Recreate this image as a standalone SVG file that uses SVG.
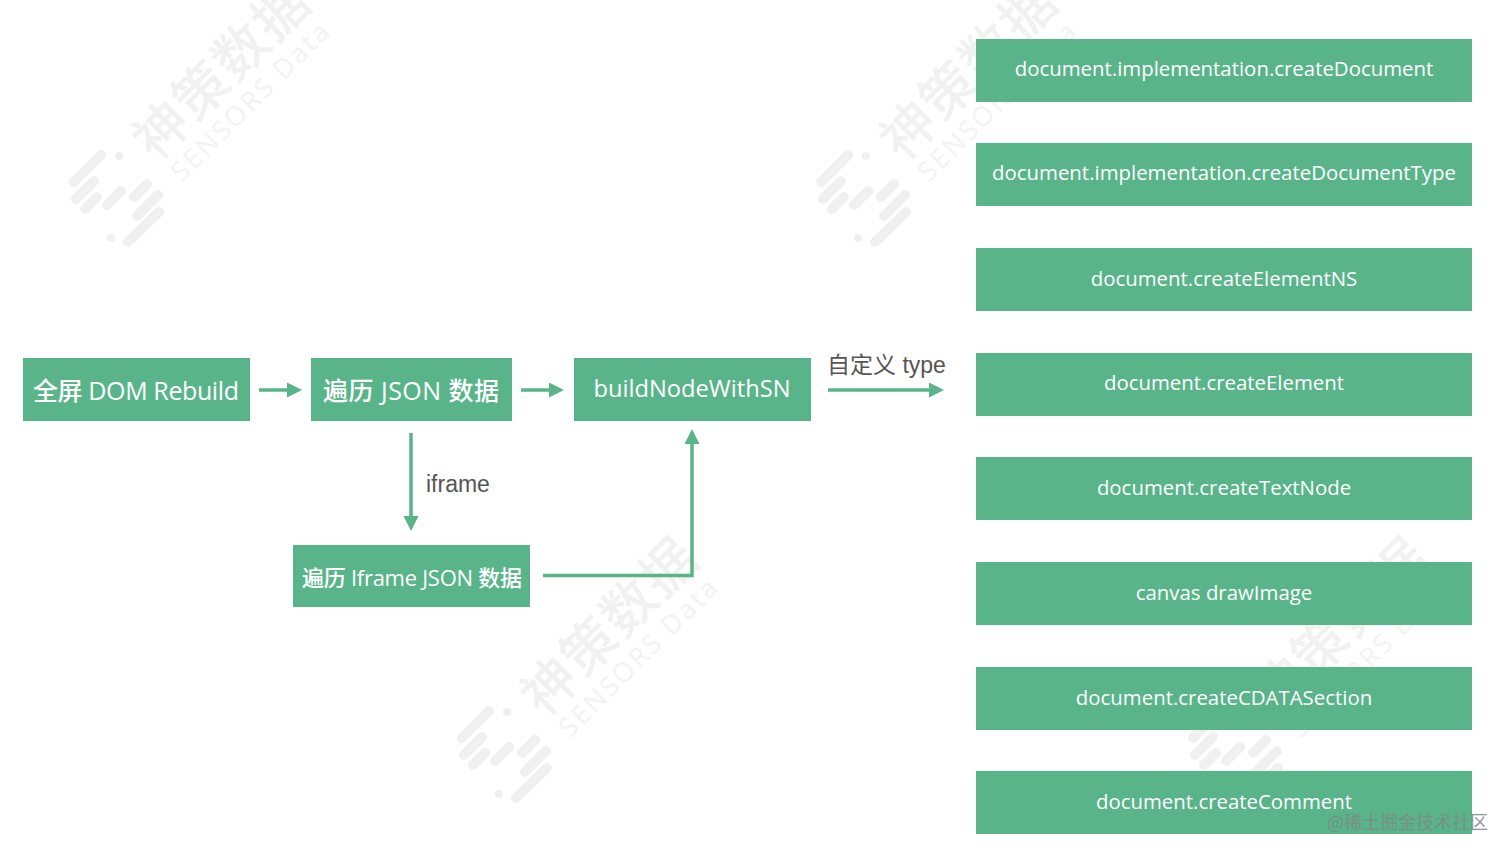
<svg xmlns="http://www.w3.org/2000/svg" width="1512" height="857" viewBox="0 0 1512 857">
<style>
.box{fill:#59b48a}
.t{font-family:"Open Sans","Noto Sans CJK SC",sans-serif;fill:#fff;text-anchor:middle;font-weight:500}
.s{font-size:20.400px}
.m{font-size:25px}
.lab{font-family:"Liberation Sans","Noto Sans CJK SC",sans-serif;font-size:23px;fill:#555}
.c{fill:none;stroke:#59b48a;stroke-width:3.500}
.wm1{font-family:"Noto Sans CJK SC",sans-serif;font-size:54px;font-weight:500;fill:#f1f1f1}
.wm2{font-family:"Noto Sans",sans-serif;font-size:27px;fill:#f3f3f3;letter-spacing:1px}
.bar{stroke:#f0f0f0;stroke-width:10;stroke-linecap:round;fill:none}
.dot{fill:#f0f0f0}
</style>
<defs>
<marker id="ah" markerUnits="userSpaceOnUse" markerWidth="16" markerHeight="16" refX="2" refY="7.500" orient="auto"><path d="M0 0L15 7.500L0 15Z" fill="#59b48a"/></marker>
<g id="wm">
<text class="wm1" transform="translate(156 163) rotate(-45)" textLength="222">神策数据</text>
<text class="wm2" transform="translate(182 183) rotate(-45)" textLength="212">SENSORS Data</text>
<path class="bar" d="M74 182L101 155M76 199L94 181M85 209L97 197M107 205L121 191M134 197L147 184M137 216L158 195M128 242L159 212"/>
<circle class="dot" cx="119" cy="156" r="4"/><circle class="dot" cx="111" cy="238" r="4"/>
</g>
</defs>
<g id="watermarks">
<use href="#wm"/><use href="#wm" x="747"/><use href="#wm" x="388" y="556"/><use href="#wm" x="1119" y="556"/>
</g>
<g id="connectors">
<path class="c" d="M259 390H289" marker-end="url(#ah)"/>
<path class="c" d="M521 390H551" marker-end="url(#ah)"/>
<path class="c" d="M828 390H931" marker-end="url(#ah)"/>
<path class="c" d="M411 433V518" marker-end="url(#ah)"/>
<path class="c" d="M543 575.500H692V442" marker-end="url(#ah)"/>
</g>
<g id="label-iframe"><text class="lab" x="426" y="492">iframe</text></g>
<g id="label-type"><text class="lab" x="827" y="373">自定义 type</text></g>
<g id="n1"><rect class="box" x="23" y="358" width="227" height="63"/><text class="t m" x="136" y="400" textLength="206">全屏 DOM Rebuild</text></g>
<g id="n2"><rect class="box" x="311" y="358" width="201" height="63"/><text class="t m" x="411" y="400" textLength="176">遍历 JSON 数据</text></g>
<g id="n3"><rect class="box" x="574" y="358" width="237" height="63"/><text class="t" font-size="23.700" x="692" y="397">buildNodeWithSN</text></g>
<g id="n4"><rect class="box" x="293" y="545" width="237" height="62"/><text class="t" font-size="22" x="412" y="586" textLength="220">遍历 Iframe JSON 数据</text></g>
<g id="r1"><rect class="box" x="976" y="39" width="496" height="63"/><text class="t s" x="1224" y="76">document.implementation.createDocument</text></g>
<g id="r2"><rect class="box" x="976" y="143" width="496" height="63"/><text class="t s" x="1224" y="180">document.implementation.createDocumentType</text></g>
<g id="r3"><rect class="box" x="976" y="248" width="496" height="63"/><text class="t s" x="1224" y="286">document.createElementNS</text></g>
<g id="r4"><rect class="box" x="976" y="353" width="496" height="63"/><text class="t s" x="1224" y="390">document.createElement</text></g>
<g id="r5"><rect class="box" x="976" y="457" width="496" height="63"/><text class="t s" x="1224" y="495">document.createTextNode</text></g>
<g id="r6"><rect class="box" x="976" y="562" width="496" height="63"/><text class="t s" x="1224" y="600">canvas drawImage</text></g>
<g id="r7"><rect class="box" x="976" y="667" width="496" height="63"/><text class="t s" x="1224" y="705">document.createCDATASection</text></g>
<g id="r8"><rect class="box" x="976" y="771" width="496" height="63"/><text class="t s" x="1224" y="809">document.createComment</text></g>
<text x="1327" y="829" font-family="'Noto Sans CJK SC',sans-serif" font-size="18" fill="#7d8a85" fill-opacity="0.9">@稀土掘金技术社区</text>
</svg>
